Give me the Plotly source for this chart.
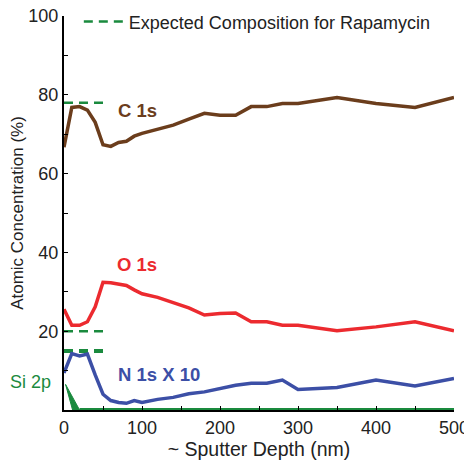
import plotly.graph_objects as go

depth = [0, 10, 20, 30, 40, 50, 60, 70, 80, 90, 100, 120, 140, 160, 180, 200,
         220, 240, 260, 280, 300, 350, 400, 450, 500]
c1s = [66.7, 76.8, 77.0, 76.1, 73.0, 67.3, 66.9, 67.9, 68.2, 69.5, 70.2, 71.3, 72.3,
       73.8, 75.3, 74.8, 74.8, 77.0, 77.0, 77.8, 77.8, 79.3, 77.8, 76.8, 79.3]
o1s = [25.6, 21.5, 21.5, 22.4, 26.2, 32.4, 32.3, 32.0, 31.6, 30.5, 29.5, 28.6, 27.2,
       25.9, 24.1, 24.5, 24.6, 22.4, 22.4, 21.5, 21.5, 20.1, 21.1, 22.4, 20.1]
n1s_x10 = [9.4, 14.3, 13.7, 14.2, 8.9, 4.0, 2.4, 1.9, 1.7, 2.4, 1.9, 2.7, 3.2,
           4.1, 4.6, 5.5, 6.3, 6.8, 6.8, 7.6, 5.2, 5.7, 7.6, 6.1, 8.0]
si_wedge_x = [2, 11, 20, 2]
si_wedge_y = [6.5, 0, 0, 6.5]
si_depth = [20, 500]
si2p = [0, 0]

expected_x = [0, 55]
expected_c = 78
expected_o = 20
expected_n_x10 = 15

BROWN = "#6b3d1c"
RED = "#ec2a2f"
BLUE = "#3c4fa6"
GREEN = "#1a8a3e"
TXT = "#222222"
FONT = "Liberation Sans, Arial, sans-serif"

fig = go.Figure()

# expected composition dashes
for val, w, show in [(expected_c, 2.5, True), (expected_o, 2.5, False), (expected_n_x10, 4, False)]:
    fig.add_trace(go.Scatter(x=expected_x, y=[val, val], mode="lines",
                             line=dict(color=GREEN, width=w, dash="9px,6px"),
                             name="Expected Composition for Rapamycin",
                             showlegend=show, hoverinfo="skip"))

fig.add_trace(go.Scatter(x=si_wedge_x, y=si_wedge_y, mode="lines", fill="toself",
                         fillcolor=GREEN, line=dict(color=GREEN, width=1), showlegend=False))
fig.add_trace(go.Scatter(x=si_depth, y=si2p, mode="lines",
                         line=dict(color=GREEN, width=4), showlegend=False))
fig.add_trace(go.Scatter(x=depth, y=n1s_x10, mode="lines",
                         line=dict(color=BLUE, width=3.5), showlegend=False))
fig.add_trace(go.Scatter(x=depth, y=o1s, mode="lines",
                         line=dict(color=RED, width=3.5), showlegend=False))
fig.add_trace(go.Scatter(x=depth, y=c1s, mode="lines",
                         line=dict(color=BROWN, width=3.5), showlegend=False))

ann = [
    dict(text="<b>C 1s</b>", x=94, y=76, xref="x", yref="y", color=BROWN, size=18.5),
    dict(text="<b>O 1s</b>", x=94, y=37, xref="x", yref="y", color=RED, size=18.5),
    dict(text="<b>N 1s X 10</b>", x=122, y=9.1, xref="x", yref="y", color=BLUE, size=18.5),
    dict(text="Si 2p", x=-0.085, y=7.1, xref="paper", yref="y", color=GREEN, size=18),
]
for a in ann:
    fig.add_annotation(text=a["text"], x=a["x"], y=a["y"], xref=a["xref"], yref=a["yref"],
                       xanchor="center", yanchor="middle",
                       showarrow=False, font=dict(size=a["size"], color=a["color"], family=FONT))

fig.update_layout(
    width=464, height=452,
    margin=dict(l=56, r=18, t=8, b=50, autoexpand=False),
    paper_bgcolor="white", plot_bgcolor="white",
    font=dict(family=FONT, color=TXT, size=17),
    showlegend=True,
    legend=dict(x=0.038, y=0.985, xanchor="left", yanchor="middle",
                bgcolor="rgba(0,0,0,0)", font=dict(size=18, color=TXT),
                itemwidth=40),
    xaxis=dict(range=[0, 500], showgrid=False, zeroline=False, automargin=True,
               showline=True, linecolor="black", linewidth=2,
               ticks="inside", ticklen=4, tickcolor="black", tickwidth=1,
               dtick=100, tick0=0, ticklabeloverflow="allow",
               minor=dict(ticks="inside", ticklen=4, dtick=50, tickcolor="black"),
               tickfont=dict(size=18, color=TXT),
               title=dict(text="~ Sputter Depth (nm)", font=dict(size=19.5, color=TXT), standoff=6)),
    yaxis=dict(range=[0, 100], showgrid=False, zeroline=False, automargin=True,
               showline=True, linecolor="black", linewidth=2,
               ticks="inside", ticklen=4, tickcolor="black", tickwidth=1,
               tickvals=[20, 40, 60, 80, 100], ticklabeloverflow="allow",
               minor=dict(ticks="inside", ticklen=4, tickvals=[10, 30, 50, 70, 90], tickcolor="black"),
               tickfont=dict(size=18, color=TXT),
               title=dict(text="Atomic Concentration (%)", font=dict(size=17, color=TXT), standoff=2)),
)

fig.write_html("out.html")
